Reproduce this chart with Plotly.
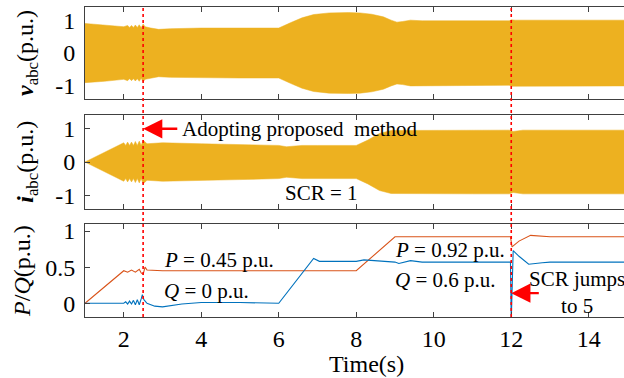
import plotly.graph_objects as go
from plotly.subplots import make_subplots

# ---- data ----
v_t = [1.0, 1.5, 2.0, 2.1, 2.15, 2.2, 2.25, 2.3, 2.35, 2.4, 2.45, 2.5, 2.55, 2.7, 2.9, 3.2,
       4.0, 5.0, 6.0, 6.3, 6.6, 6.9, 7.3, 7.8, 8.1, 8.4, 8.7, 8.9, 9.05, 9.2, 9.4, 9.7,
       10.0, 11.0, 11.95, 12.0, 12.1, 13.0, 14.0, 15.0]
v_amp = [0.9, 0.86, 0.8, 0.84, 0.78, 0.84, 0.78, 0.85, 0.78, 0.86, 0.77, 0.88, 0.8, 0.76, 0.72, 0.74,
         0.76, 0.76, 0.76, 0.92, 1.07, 1.17, 1.22, 1.23, 1.22, 1.18, 1.1, 1.0, 0.94, 0.96, 1.0, 0.98,
         0.98, 0.98, 0.98, 1.01, 1.0, 1.0, 1.0, 1.0]

i_t = [1.0, 2.0, 2.05, 2.1, 2.15, 2.2, 2.25, 2.3, 2.35, 2.4, 2.45, 2.5, 2.6, 3.0, 4.0, 5.0,
       6.0, 6.2, 6.6, 7.0, 8.0, 8.3, 8.6, 8.9, 10.0, 11.0, 11.95, 12.05, 12.3, 13.0, 15.0]
i_amp = [0.0, 0.58, 0.5, 0.6, 0.5, 0.6, 0.5, 0.62, 0.5, 0.63, 0.5, 0.66, 0.55, 0.58, 0.55, 0.53,
         0.5, 0.46, 0.5, 0.5, 0.5, 0.66, 0.86, 0.95, 0.96, 0.96, 0.96, 0.92, 0.96, 0.96, 0.96]

p_t = [1.0, 2.0, 2.1, 2.2, 2.3, 2.4, 2.45, 2.5, 2.55, 2.6, 3.0, 5.0, 6.0, 8.0, 9.0,
       11.98, 12.02, 12.2, 12.5, 13.0, 15.0]
p_val = [0.0, 0.45, 0.43, 0.46, 0.43, 0.47, 0.42, 0.40, 0.50, 0.46, 0.45, 0.45, 0.44, 0.45, 0.92,
         0.92, 0.78, 0.86, 0.94, 0.92, 0.92]

q_t = [1.0, 2.0, 2.05, 2.1, 2.15, 2.2, 2.25, 2.3, 2.35, 2.4, 2.45, 2.48, 2.52, 2.6, 2.8, 3.0,
       3.5, 4.0, 5.0, 6.0, 6.9, 7.05, 7.5, 8.0, 8.2, 9.0, 9.1, 9.4, 9.7, 10.0, 11.0,
       11.98, 12.0, 12.05, 12.2, 12.45, 12.8, 13.0, 15.0]
q_val = [0.0, 0.0, 0.02, -0.01, 0.03, -0.01, 0.04, -0.02, 0.05, -0.02, 0.06, 0.12, 0.05, 0.0, -0.04, -0.05,
         -0.01, 0.01, 0.01, 0.0, 0.62, 0.58, 0.58, 0.58, 0.6, 0.57, 0.55, 0.59, 0.57, 0.57, 0.57,
         0.57, -0.25, 0.73, 0.65, 0.54, 0.56, 0.57, 0.57]

event_times = [2.5, 12.0]
x_ticks = [2, 4, 6, 8, 10, 12, 14]

FILL = "#EDB120"
P_COL = "#D95319"
Q_COL = "#0072BD"
FONT = "Liberation Serif"
AX = "#404040"

fig = make_subplots(rows=3, cols=1, shared_xaxes=False)

def band(t, a):
    xs = list(t) + list(reversed(t))
    ys = list(a) + [-v for v in reversed(a)]
    return xs, ys

xs, ys = band(v_t, v_amp)
fig.add_trace(go.Scatter(x=xs, y=ys, fill="toself", fillcolor=FILL, line=dict(color=FILL, width=0.5),
                         mode="lines", hoverinfo="skip", showlegend=False), row=1, col=1)
xs, ys = band(i_t, i_amp)
fig.add_trace(go.Scatter(x=xs, y=ys, fill="toself", fillcolor=FILL, line=dict(color=FILL, width=0.5),
                         mode="lines", hoverinfo="skip", showlegend=False), row=2, col=1)
fig.add_trace(go.Scatter(x=p_t, y=p_val, mode="lines", line=dict(color=P_COL, width=1.1),
                         showlegend=False), row=3, col=1)
fig.add_trace(go.Scatter(x=q_t, y=q_val, mode="lines", line=dict(color=Q_COL, width=1.1),
                         showlegend=False), row=3, col=1)

doms = [(0.703, 1.0), (0.348, 0.652), (0.0, 0.3)]
yranges = [[-1.4, 1.4], [-1.42, 1.42], [-0.19, 1.097]]
ytickvals = [[-1, 0, 1], [-1, 0, 1], [0, 0.5, 1]]
yticktext = [["-1", "0", "1"], ["-1", "0", "1"], ["0", "0.5", "1"]]

for k in range(3):
    n = "" if k == 0 else str(k + 1)
    fig.layout["xaxis" + n].update(
        range=[1, 14.91], domain=[0, 1], tickvals=x_ticks,
        showticklabels=(k == 2), ticks="inside", ticklen=5, tickcolor=AX,
        showline=True, linecolor=AX, linewidth=1, mirror="ticks", showgrid=False, zeroline=False,
        ticklabelstandoff=0,
        tickfont=dict(family=FONT, size=24, color="black"))
    fig.layout["yaxis" + n].update(
        domain=list(doms[k]), range=yranges[k], tickvals=ytickvals[k], ticktext=yticktext[k],
        ticks="" if k == 0 else "inside", ticklen=5, tickcolor=AX,
        showline=True, linecolor=AX, linewidth=1, showgrid=False, zeroline=False,
        ticklabelstandoff=4,
        tickfont=dict(family=FONT, size=24, color="black"))

# dashed event lines
for t in event_times:
    fig.add_shape(type="line", xref="x", yref="paper", x0=t, x1=t, y0=0, y1=1,
                  line=dict(color="#FF0000", width=1.6, dash="dot"), layer="above")

tf = dict(family=FONT, size=21, color="black")
ann = [
    dict(text="Adopting proposed  method", x=3.44, y=1.0, xref="x2", yref="y2", xanchor="left", yanchor="middle"),
    dict(text="SCR = 1", x=6.1, y=-0.92, xref="x2", yref="y2", xanchor="left", yanchor="middle"),
    dict(text="<i>P</i> = 0.45 p.u.", x=2.98, y=0.6, xref="x3", yref="y3", xanchor="left", yanchor="middle"),
    dict(text="<i>Q</i> = 0 p.u.", x=2.98, y=0.17, xref="x3", yref="y3", xanchor="left", yanchor="middle"),
    dict(text="<i>P</i> = 0.92 p.u.", x=8.94, y=0.74, xref="x3", yref="y3", xanchor="left", yanchor="middle"),
    dict(text="<i>Q</i> = 0.6 p.u.", x=8.94, y=0.32, xref="x3", yref="y3", xanchor="left", yanchor="middle"),
    dict(text="SCR jumps<br>to 5", x=13.7, y=0.155, xref="x3", yref="y3", xanchor="center", yanchor="middle",
         align="center"),
]
for a in ann:
    fig.add_annotation(showarrow=False, font=tf, **a)

# arrows
fig.add_annotation(x=2.5, y=1.0, ax=3.42, ay=1.0, xref="x2", yref="y2", axref="x2", ayref="y2",
                   text="", showarrow=True, arrowhead=2, arrowsize=1.6, arrowwidth=2.4, arrowcolor="#FF0000")
fig.add_annotation(x=12.0, y=0.14, ax=12.75, ay=0.14, xref="x3", yref="y3", axref="x3", ayref="y3",
                   text="", showarrow=True, arrowhead=2, arrowsize=1.6, arrowwidth=2.4, arrowcolor="#FF0000")

# axis titles
ylab = dict(family=FONT, size=24, color="black")
fig.add_annotation(text="<b><i>v</i></b><sub>abc</sub>(p.u.)", x=-0.108, y=0.851, xref="paper", yref="paper",
                   textangle=-90, showarrow=False, font=ylab, xanchor="center", yanchor="middle")
fig.add_annotation(text="<b><i>i</i></b><sub>abc</sub>(p.u.)", x=-0.108, y=0.5, xref="paper", yref="paper",
                   textangle=-90, showarrow=False, font=ylab, xanchor="center", yanchor="middle")
fig.add_annotation(text="<i>P</i>/<i>Q</i>(p.u.)", x=-0.118, y=0.15, xref="paper", yref="paper",
                   textangle=-90, showarrow=False, font=ylab, xanchor="center", yanchor="middle")
fig.add_annotation(text="Time(s)", x=0.522, y=-0.152, xref="paper", yref="paper",
                   showarrow=False, font=dict(family=FONT, size=24, color="black"),
                   xanchor="center", yanchor="middle")

fig.update_layout(width=624, height=378, margin=dict(l=85, r=0, t=7, b=61),
                  plot_bgcolor="white", paper_bgcolor="white")

fig.write_html("out.html")
